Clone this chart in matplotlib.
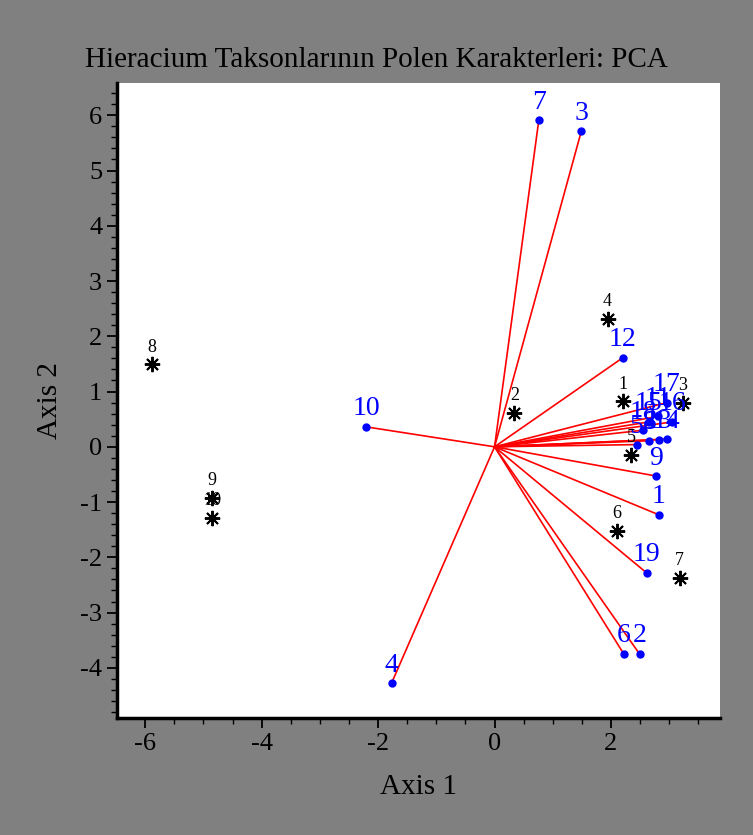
import matplotlib
matplotlib.use("Agg")
import matplotlib.pyplot as plt
from matplotlib.ticker import MultipleLocator

plt.rcParams['axes.unicode_minus'] = False

# variable loadings (blue points, red vectors from origin)
var_labels = ['1', '2', '3', '4', '5', '6', '7', '8', '9', '10',
              '11', '12', '13', '14', '15', '16', '17', '18', '19']
var_x = [2.82, 2.49, 1.49, -1.77, 2.44, 2.22, 0.76, 2.66, 2.78, -2.20,
         2.80, 2.20, 2.82, 2.96, 2.65, 3.05, 2.96, 2.55, 2.61]
var_y = [-1.23, -3.75, 5.71, -4.28, 0.04, -3.75, 5.91, 0.11, -0.53, 0.36,
         0.55, 1.61, 0.13, 0.14, 0.45, 0.45, 0.80, 0.30, -2.28]

# taxon scores (black asterisks)
obs_labels = ['1', '2', '3', '4', '5', '6', '7', '8', '9', '10']
obs_x = [2.20, 0.34, 3.23, 1.94, 2.35, 2.10, 3.18, -5.88, -4.85, -4.85]
obs_y = [0.82, 0.62, 0.80, 2.32, -0.14, -1.52, -2.37, 1.49, -0.92, -1.29]

serif = ['Liberation Serif', 'DejaVu Serif']

fig = plt.figure(figsize=(7.53, 8.35), dpi=100, facecolor='#808080')
ax = fig.add_axes([0.155, 0.140, 0.801, 0.761])
ax.set_facecolor('white')

for x, y in zip(var_x, var_y):
    ax.plot([0, x], [0, y], color='red', lw=1.2, zorder=2)
ax.plot(var_x, var_y, 'o', color='blue', ms=5, zorder=3)
for lab, x, y in zip(var_labels, var_x, var_y):
    ax.text(x, y + 0.1, lab, color='blue', fontsize=20, family=serif,
            ha='center', va='bottom', zorder=4)

ax.plot(obs_x, obs_y, linestyle='none', marker=(8, 2, 0), color='black',
        ms=11, mew=1.4, zorder=3)
for lab, x, y in zip(obs_labels, obs_x, obs_y):
    ax.text(x, y + 0.16, lab, color='black', fontsize=13, family=serif,
            ha='center', va='bottom', zorder=4)

ax.set_xlim(-6.49, 3.87)
ax.set_ylim(-4.91, 6.59)
ax.xaxis.set_major_locator(MultipleLocator(2))
ax.xaxis.set_minor_locator(MultipleLocator(0.5))
ax.yaxis.set_major_locator(MultipleLocator(1))
ax.yaxis.set_minor_locator(MultipleLocator(0.2))
ax.tick_params(which='major', length=7, width=1.3, labelsize=19)
ax.tick_params(which='minor', length=4, width=1.0)
for t in ax.get_xticklabels() + ax.get_yticklabels():
    t.set_family(serif)

for s in ['top', 'right']:
    ax.spines[s].set_visible(False)
for s in ['left', 'bottom']:
    ax.spines[s].set_linewidth(2.5)

ax.set_xlabel('Axis 1', fontsize=21, family=serif, labelpad=14)
ax.set_ylabel('Axis 2', fontsize=21, family=serif, labelpad=12)
fig.text(0.5, 0.912, 'Hieracium Taksonlarının Polen Karakterleri: PCA',
         fontsize=21, family=serif, ha='center', va='bottom')

fig.savefig('out.png', dpi=100, facecolor=fig.get_facecolor())
